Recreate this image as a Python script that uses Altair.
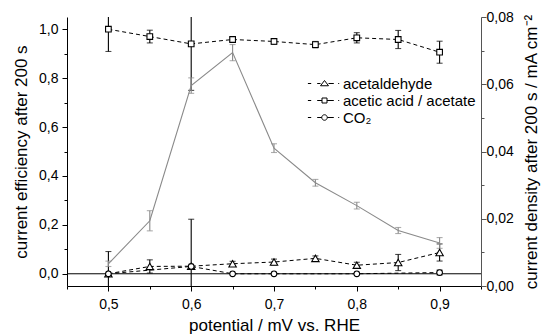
import altair as alt
import pandas as pd

# ---------------- data ----------------
potential = [0.50, 0.55, 0.60, 0.65, 0.70, 0.75, 0.80, 0.85, 0.90]

acetaldehyde = [0.000, 0.030, 0.031, 0.041, 0.048, 0.063, 0.035, 0.046, 0.087]
acetaldehyde_err = [0.000, 0.027, 0.000, 0.010, 0.012, 0.010, 0.012, 0.033, 0.035]

acetic = [1.000, 0.970, 0.940, 0.958, 0.950, 0.937, 0.965, 0.958, 0.906]
acetic_err = [0.091, 0.026, 0.190, 0.009, 0.012, 0.013, 0.021, 0.037, 0.045]

co2_potential = [0.50, 0.60, 0.65, 0.70, 0.80, 0.90]
co2 = [0.000, 0.030, 0.000, 0.000, 0.000, 0.005]
co2_err = [0.091, 0.193, 0.000, 0.000, 0.000, 0.010]

current_density = [0.0066, 0.0194, 0.0596, 0.0694, 0.0410, 0.0307, 0.0239, 0.0165, 0.0128]
current_density_err = [0.0008, 0.0030, 0.0023, 0.0024, 0.0013, 0.0010, 0.0010, 0.0009, 0.0016]

series_names = ["acetaldehyde", "acetic acid / acetate", "CO\u2082"]

x_ticks = [0.45, 0.50, 0.55, 0.60, 0.65, 0.70, 0.75, 0.80, 0.85, 0.90, 0.95]
left_ticks = [0.0, 0.1, 0.2, 0.3, 0.4, 0.5, 0.6, 0.7, 0.8, 0.9, 1.0]
right_ticks = [0.00, 0.01, 0.02, 0.03, 0.04, 0.05, 0.06, 0.07, 0.08]

# ---------------- tables ----------------
rows = []
for name, pots, vals, errs in [
    (series_names[0], potential, acetaldehyde, acetaldehyde_err),
    (series_names[1], potential, acetic, acetic_err),
    (series_names[2], co2_potential, co2, co2_err),
]:
    for p, v, e in zip(pots, vals, errs):
        rows.append({"series": name, "potential": p, "value": v, "err": e})
df_left = pd.DataFrame(rows)

df_right = pd.DataFrame({"potential": potential, "cd": current_density, "err": current_density_err})
df_zero = pd.DataFrame({"zero": [0.0]})

FONT = "Liberation Sans"
GRAY = "#8a8a8a"

x_major = "abs(datum.value*10 - round(datum.value*10)) < 0.01"
l_major = "abs(datum.value*5 - round(datum.value*5)) < 0.01"
r_major = "abs(datum.value*50 - round(datum.value*50)) < 0.01"

x_scale = alt.Scale(domain=[0.45, 0.95], nice=False, zero=False)
yl_scale = alt.Scale(domain=[-0.05, 1.05], nice=False, zero=False)
yr_scale = alt.Scale(domain=[0.0, 0.08], nice=False, zero=False)

x_axis = alt.Axis(
    values=x_ticks, title="potential / mV vs. RHE", orient="bottom",
    labelExpr=f"{x_major} ? replace(format(datum.value, '.1f'), '.', ',') : ''",
    tickSize={"condition": {"test": x_major, "value": 5}, "value": 3},
    labelOverlap=False, labelFlush=False, labelPadding=6, titlePadding=6,
)
left_axis = alt.Axis(
    values=left_ticks, title="current efficiency after 200 s", orient="left",
    labelExpr=f"{l_major} ? replace(format(datum.value, '.1f'), '.', ',') : ''",
    tickSize={"condition": {"test": l_major, "value": 5}, "value": 3},
    labelOverlap=False, labelFlush=False, labelPadding=4, titlePadding=8,
    titleAngle=270, titleBaseline="bottom",
)
right_axis = alt.Axis(
    values=right_ticks, title="current density after 200 s / mA cm\u207b\u00b2", orient="right",
    labelExpr=f"{r_major} ? replace(format(datum.value, '.2f'), '.', ',') : ''",
    tickSize={"condition": {"test": r_major, "value": 5}, "value": 3},
    labelOverlap=False, labelFlush=False, labelPadding=0, titlePadding=10,
    titleAngle=270, titleBaseline="top", domainColor="#555555", tickColor="#555555",
)

X = alt.X("potential:Q", scale=x_scale, axis=x_axis)

def YL(field):
    return alt.Y(field, scale=yl_scale, axis=left_axis)

def YR(field):
    return alt.Y(field, scale=yr_scale, axis=right_axis)

# ---------------- left (current efficiency) ----------------
base = alt.Chart(df_left)
err_base = base.transform_filter("datum.err > 0").transform_calculate(
    lo="datum.value - datum.err", hi="datum.value + datum.err"
)

zero_rule = alt.Chart(df_zero).mark_rule(color="black", strokeWidth=1).encode(y=YL("zero:Q"))
err_rule = err_base.mark_rule(color="black", strokeWidth=1.1, clip=True).encode(
    x=X, y=YL("lo:Q"), y2="hi:Q"
)
cap_lo = err_base.mark_tick(orient="horizontal", size=6, thickness=1.1, color="black", clip=True).encode(
    x=X, y=YL("lo:Q")
)
cap_hi = err_base.mark_tick(orient="horizontal", size=6, thickness=1.1, color="black", clip=True).encode(
    x=X, y=YL("hi:Q")
)
lines = base.mark_line(color="black", strokeWidth=1, strokeDash=[4, 3], clip=True).encode(
    x=X, y=YL("value:Q"), detail="series:N"
)

def pts(name, shape, size):
    return base.transform_filter(alt.datum.series == name).mark_point(
        shape=shape, size=size, filled=True, fill="white", stroke="black", strokeWidth=1.1, opacity=1
    ).encode(x=X, y=YL("value:Q"))

pts_tri = pts(series_names[0], "triangle-up", 55)
pts_sq = pts(series_names[1], "square", 32)
pts_ci = pts(series_names[2], "circle", 32)

# legend symbols: dash, marker, dash, dot (unit = 5 px with symbolSize 100)
tri_path = ("M-3.32,0L-2.66,0M-1.46,0L-0.8,0M0.8,0L1.86,0M2.74,0L2.94,0"
            "M0,-0.6L0.8,0.45L-0.8,0.45Z")
sq_path = ("M-3.32,0L-2.66,0M-1.46,0L-0.5,0M0.5,0L1.86,0M2.74,0L2.94,0"
           "M-0.5,-0.5L0.5,-0.5L0.5,0.5L-0.5,0.5Z")
ci_path = ("M-3.32,0L-2.66,0M-1.46,0L-0.55,0M0.55,0L1.86,0M2.74,0L2.94,0"
           "M0.55,0A0.55,0.55 0 1,1 -0.55,0A0.55,0.55 0 1,1 0.55,0Z")

legend_layer = base.mark_point(filled=False, stroke="black", strokeOpacity=0, fillOpacity=0).encode(
    x=X,
    y=YL("value:Q"),
    shape=alt.Shape(
        "series:N",
        scale=alt.Scale(domain=series_names, range=[tri_path, sq_path, ci_path]),
        legend=alt.Legend(
            title=None, orient="none", legendX=250, legendY=59, padding=0,
            symbolSize=100, symbolOpacity=1, symbolFillColor="white",
            symbolStrokeColor="black", symbolStrokeWidth=1,
            labelFont=FONT, labelFontSize=15, labelColor="black",
            labelOffset=11, rowPadding=1,
        ),
    ),
)

left = alt.layer(zero_rule, err_rule, cap_lo, cap_hi, lines, pts_tri, pts_sq, pts_ci, legend_layer)

# ---------------- right (current density) ----------------
rbase = alt.Chart(df_right)
rerr = rbase.transform_calculate(lo="datum.cd - datum.err", hi="datum.cd + datum.err")
r_line = rbase.mark_line(color=GRAY, strokeWidth=1.1).encode(x=X, y=YR("cd:Q"))
r_rule = rerr.mark_rule(color=GRAY, strokeWidth=1.1).encode(x=X, y=YR("lo:Q"), y2="hi:Q")
r_cap_lo = rerr.mark_tick(orient="horizontal", size=6, thickness=1.1, color=GRAY).encode(x=X, y=YR("lo:Q"))
r_cap_hi = rerr.mark_tick(orient="horizontal", size=6, thickness=1.1, color=GRAY).encode(x=X, y=YR("hi:Q"))
right = alt.layer(r_line, r_rule, r_cap_lo, r_cap_hi)

chart = (
    alt.layer(left, right)
    .resolve_scale(y="independent")
    .properties(
        width=414, height=269,
        padding={"left": 67, "top": 17, "right": 61, "bottom": 48},
        autosize=alt.AutoSizeParams(type="none"),
        background="white",
    )
    .configure_view(stroke=None)
    .configure_axis(
        grid=False, domainColor="black", tickColor="black", domainWidth=1, tickWidth=1,
        labelFont=FONT, labelFontSize=14, labelColor="black",
        titleFont=FONT, titleFontSize=17, titleFontWeight="normal", titleColor="black",
    )
)

chart.save("out.html", embed_options={"renderer": "svg", "actions": False})
